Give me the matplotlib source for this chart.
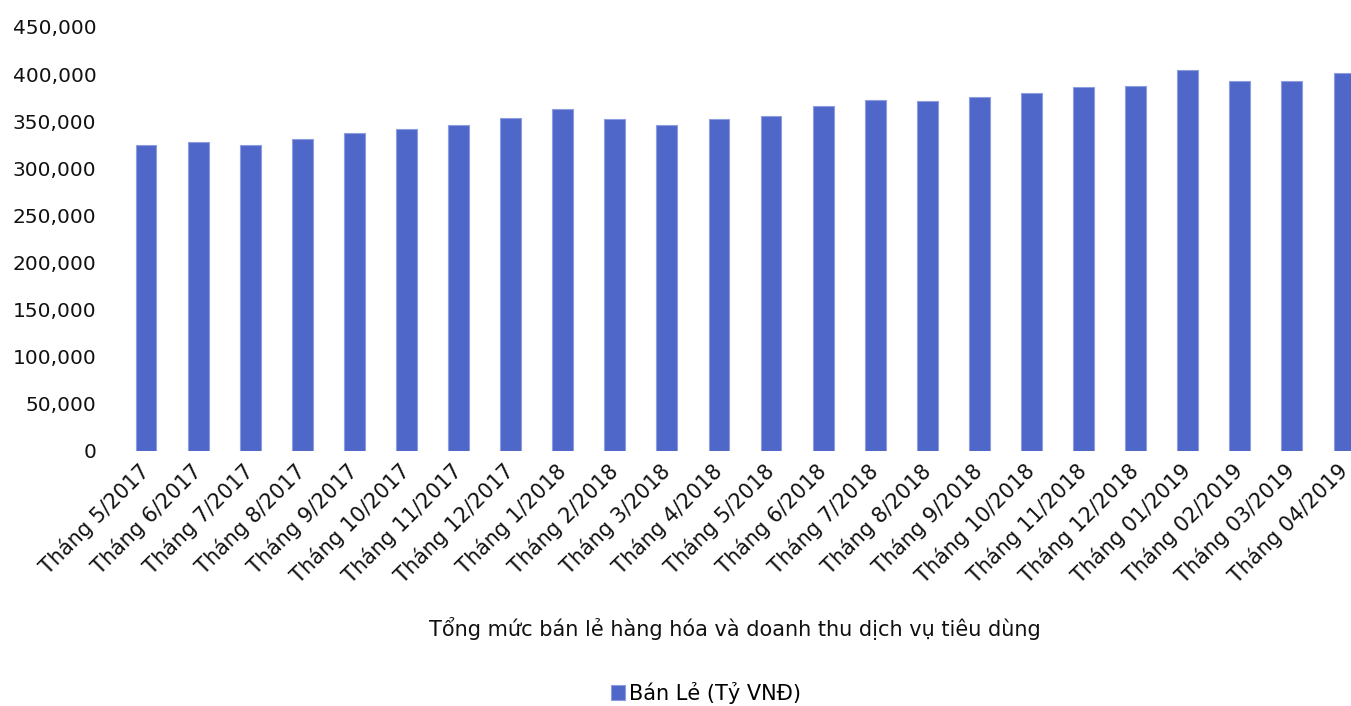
import matplotlib
matplotlib.use("Agg")
import matplotlib.pyplot as plt
from matplotlib.ticker import FuncFormatter, MultipleLocator

months = [
    "Tháng 5/2017", "Tháng 6/2017", "Tháng 7/2017", "Tháng 8/2017",
    "Tháng 9/2017", "Tháng 10/2017", "Tháng 11/2017", "Tháng 12/2017",
    "Tháng 1/2018", "Tháng 2/2018", "Tháng 3/2018", "Tháng 4/2018",
    "Tháng 5/2018", "Tháng 6/2018", "Tháng 7/2018", "Tháng 8/2018",
    "Tháng 9/2018", "Tháng 10/2018", "Tháng 11/2018", "Tháng 12/2018",
    "Tháng 01/2019", "Tháng 02/2019", "Tháng 03/2019", "Tháng 04/2019",
]
retail = [
    324500, 328000, 324500, 331000, 338000, 342000, 346000, 353500,
    362500, 352000, 345500, 352000, 355500, 366000, 373000, 371000,
    376000, 380000, 386500, 387000, 404500, 392500, 393000, 401500,
]
series_name = "Bán Lẻ (Tỷ VNĐ)"
axis_title = "Tổng mức bán lẻ hàng hóa và doanh thu dịch vụ tiêu dùng"

plt.rcParams["font.family"] = ["DejaVu Sans"]
bar_color = "#4f67c9"

W, H = 1351, 706
fig = plt.figure(figsize=(W / 100, H / 100), dpi=100)
ax_left, ax_right = 120, 1370
ax_top, ax_bottom = 27, 451
ax = fig.add_axes([ax_left / W, 1 - ax_bottom / H,
                   (ax_right - ax_left) / W, (ax_bottom - ax_top) / H])

x = list(range(len(months)))
ax.bar(x, retail, width=0.4, color=bar_color, edgecolor="#8d9de0",
       linewidth=0.8, label=series_name)

ax.set_xlim(-0.5, len(months) - 0.5)
ax.set_ylim(0, 450000)
ax.yaxis.set_major_locator(MultipleLocator(50000))
ax.yaxis.set_major_formatter(FuncFormatter(lambda v, p: f"{int(v):,}"))

for s in ax.spines.values():
    s.set_visible(False)
ax.tick_params(axis="y", length=0, pad=17, labelsize=14.5, labelcolor="#111111")
ax.tick_params(axis="x", length=0, pad=6)
ax.set_xticks(x)
ax.set_xticklabels(months, rotation=45, ha="right", va="center",
                   rotation_mode="anchor", fontsize=15, color="#111111")
for lbl in ax.get_xticklabels():
    lbl.set_y(-0.02)

fig.text(735 / W, 1 - 628 / H, axis_title, ha="center", va="center",
         fontsize=15, color="#111111")

fig.legend(loc="center", bbox_to_anchor=(706 / W, 1 - 693 / H),
           frameon=False, fontsize=15, handlelength=0.7, handleheight=0.7,
           handletextpad=0.2, borderpad=0)

fig.savefig("out.png", dpi=100, facecolor="white")
